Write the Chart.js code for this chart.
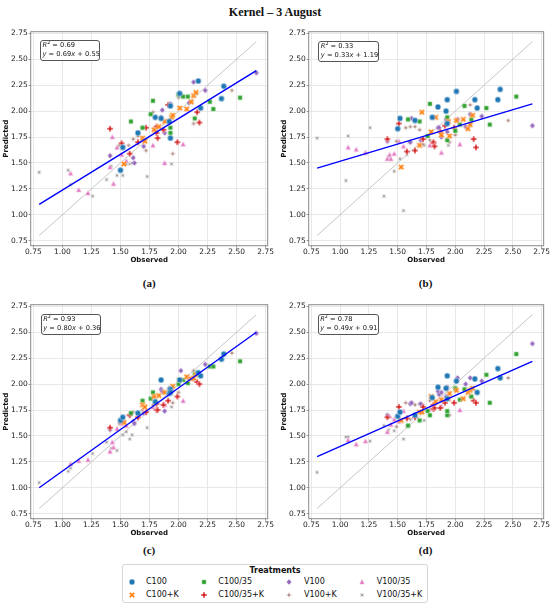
<!DOCTYPE html>
<html><head><meta charset="utf-8">
<script src="https://cdn.jsdelivr.net/npm/chart.js@4.4.0/dist/chart.umd.min.js"></script>
<style>
html,body{margin:0;padding:0;background:#fff;}
#root{position:relative;width:550px;height:606px;overflow:hidden;font-family:'DejaVu Sans',sans-serif;color:#111;}
canvas.panel{position:absolute;}
.title{position:absolute;left:0;width:550px;top:5px;line-height:14px;text-align:center;font-weight:bold;font-size:12px;font-family:'Liberation Serif','Times New Roman',serif;}
.lab{position:absolute;width:60px;line-height:12px;text-align:center;font-weight:bold;font-size:11px;font-family:'Liberation Serif','Times New Roman',serif;}
.ann{position:absolute;box-sizing:border-box;border:1px solid #555;border-radius:3px;background:#fff;font-family:'DejaVu Sans';font-size:6.7px;line-height:9px;padding:0 0 0 1.5px;white-space:nowrap;overflow:hidden;}
.ann sup{font-size:70%;line-height:0;vertical-align:3px;}
.legend{position:absolute;left:122px;top:564px;width:306px;height:39px;box-sizing:border-box;border:1px solid #d6d6d6;border-radius:3px;}
.ltitle{position:absolute;left:122px;width:306px;top:565.5px;line-height:10px;text-align:center;font-weight:bold;font-size:8px;}
.litem{position:absolute;line-height:10px;font-size:8px;white-space:nowrap;}
.lmark{position:absolute;}
</style>
</head>
<body>
<div id="root">
  <div class="title">Kernel – 3 August</div>
</div>
<script>
// ---------------- data ----------------
const treatments = ['C100','C100+K','C100/35','C100/35+K','V100','V100+K','V100/35','V100/35+K'];
const colors = ['#1f77b4','#ff7f0e','#2ca02c','#d62728','#9467bd','#8c564b','#e377c2','#7f7f7f'];
const markerKinds = ['o','X','s','P','d','star+','^','starx'];
const xTicks = [0.75,1.00,1.25,1.50,1.75,2.00,2.25,2.50,2.75];
const yTicks = [0.75,1.00,1.25,1.50,1.75,2.00,2.25,2.50,2.75];

// observed values per treatment (shared by all four panels)
const obsC100    = [1.50,1.52,1.65,1.80,1.85,1.92,1.93,1.93,2.01,2.17,2.19,2.37,2.39];
const obsC100K   = [1.53,1.69,1.71,1.79,1.83,1.88,1.94,1.95,2.01,2.07,2.11,2.13,2.15];
const obsC10035  = [1.59,1.69,1.76,1.78,1.93,1.93,2.00,2.04,2.08,2.14,2.27,2.30,2.53];
const obsC10035K = [1.41,1.51,1.58,1.65,1.72,1.81,1.81,1.82,1.87,1.91,1.99,2.16,2.18];
const obsV100    = [1.41,1.61,1.62,1.70,1.85,1.86,1.88,1.92,1.93,2.02,2.09,2.13,2.23,2.67];
const obsV100K   = [1.49,1.57,1.61,1.65,1.69,1.72,1.78,1.95,2.00,2.13,2.46];
const obsV10035  = [1.07,1.14,1.22,1.41,1.43,1.44,1.47,1.51,1.55,1.78,1.88,2.04];
const obsV10035K = [0.80,1.05,1.07,1.26,1.38,1.42,1.47,1.52,1.55,1.58,1.60,1.73,1.94];

// panel (a) predictions
const predA_C100    = [1.43,1.65,1.79,1.94,1.93,1.90,2.05,1.74,2.17,2.29,2.03,2.12,2.24];
const predA_C100K   = [1.49,1.74,1.71,1.82,1.85,1.90,1.94,1.96,2.03,2.02,2.09,2.15,2.18];
const predA_C10035  = [1.90,1.84,1.97,2.10,1.84,1.79,2.16,2.14,2.14,1.93,2.09,2.02,2.13];
const predA_C10035K = [1.83,1.69,1.59,1.70,1.84,1.85,1.79,1.74,1.82,2.06,1.70,1.99,1.89];
const predA_V100    = [1.57,1.55,1.50,1.66,1.94,2.01,1.79,2.05,2.07,2.16,2.08,2.28,2.20,2.37];
const predA_V100K   = [1.67,1.67,1.73,1.76,1.84,1.62,1.99,1.59,2.13,1.88,2.20];
const predA_V10035  = [1.40,1.24,1.21,1.46,1.75,1.30,1.65,1.58,1.52,1.67,1.50,1.68];
const predA_V10035K = [1.41,1.43,1.29,1.18,1.34,1.47,1.38,1.38,1.49,1.49,1.50,1.37,1.49];

// panel (b) predictions
const predB_C100    = [1.83,1.93,1.91,1.94,2.04,2.00,2.11,1.88,2.19,2.11,2.03,2.11,2.21];
const predB_C100K   = [1.46,1.67,1.99,1.80,1.94,1.77,1.90,1.76,1.91,1.92,1.83,1.87,1.96];
const predB_C10035  = [1.92,1.90,1.76,2.07,1.94,1.72,1.81,1.87,2.05,1.92,2.03,1.87,2.14];
const predB_C10035K = [1.73,1.88,1.61,1.62,1.73,1.69,1.70,1.66,1.80,1.86,1.84,1.73,1.65];
const predB_V100    = [1.71,1.70,1.93,1.72,1.84,1.84,1.75,1.92,1.80,1.92,1.85,1.97,1.95,1.86];
const predB_V100K   = [1.71,1.84,1.85,1.85,1.82,1.68,1.72,1.70,1.77,2.06,1.91];
const predB_V10035  = [1.65,1.63,1.60,1.54,1.58,1.54,1.59,1.71,1.66,1.67,1.60,1.68];
const predB_V10035K = [1.74,1.33,1.76,1.84,1.18,1.56,1.42,1.54,1.04,1.58,1.70,1.67,1.67];

// panel (c) predictions
const predC_C100    = [1.65,1.68,1.72,1.83,2.04,1.91,1.95,1.92,2.04,2.11,2.08,2.24,2.29];
const predC_C100K   = [1.63,1.80,1.78,1.88,1.89,1.92,1.95,1.98,2.04,2.07,2.05,2.06,2.09];
const predC_C10035  = [1.72,1.84,1.86,1.92,1.95,1.92,2.00,2.04,2.01,2.10,2.17,2.17,2.22];
const predC_C10035K = [1.58,1.64,1.70,1.68,1.73,1.75,1.81,1.75,1.80,1.84,1.88,2.02,2.00];
const predC_V100    = [1.56,1.64,1.62,1.72,1.95,1.93,1.74,1.96,1.96,2.13,2.05,2.05,2.19,2.49];
const predC_V100K   = [1.62,1.70,1.73,1.72,1.75,1.72,1.80,1.82,1.92,2.13,2.30];
const predC_V10035  = [1.23,1.26,1.27,1.35,1.44,1.39,1.57,1.62,1.60,1.78,1.80,1.84];
const predC_V10035K = [1.05,1.16,1.19,1.33,1.44,1.38,1.36,1.51,1.54,1.47,1.51,1.58,1.78];

// panel (d) predictions
const predD_C100    = [1.69,1.73,1.70,1.87,1.97,1.96,2.08,1.86,2.03,2.05,1.92,2.15,2.06];
const predD_C100K   = [1.65,1.73,1.73,1.88,1.83,1.85,1.86,1.91,1.94,1.86,1.92,1.94,1.96];
const predD_C10035  = [1.60,1.65,1.74,1.70,1.70,1.74,1.96,1.85,1.95,1.88,2.09,1.82,2.29];
const predD_C10035K = [1.68,1.78,1.67,1.68,1.78,1.80,1.76,1.77,1.77,1.82,1.82,1.84,1.82];
const predD_V100    = [1.70,1.81,1.82,1.81,1.93,1.90,1.92,1.88,1.97,2.06,2.00,2.06,2.03,2.39];
const predD_V100K   = [1.59,1.82,1.66,1.80,1.81,1.80,1.84,1.70,1.95,1.88,2.06];
const predD_V10035  = [1.46,1.42,1.45,1.54,1.69,1.61,1.66,1.64,1.74,1.76,1.79,1.75];
const predD_V10035K = [1.15,1.49,1.49,1.45,1.60,1.56,1.55,1.65,1.47,1.59,1.60,1.65,1.72];

// fitted lines (endpoints at min/max observed) and identity line
const lineX = [0.80, 2.67];
const fitA = [1.10, 2.39];
const fitB = [1.45, 2.07];
const fitC = [1.00, 2.50];
const fitD = [1.30, 2.22];
const identityY = [0.80, 2.67];
const r2Labels = ['0.69','0.33','0.93','0.78'];
const eqSlopes = ['0.69','0.33','0.80','0.49'];
const eqIntercepts = ['0.55','1.19','0.36','0.91'];
const panelLetters = ['(a)','(b)','(c)','(d)'];

// ---------------- build ----------------
const observed = [obsC100,obsC100K,obsC10035,obsC10035K,obsV100,obsV100K,obsV10035,obsV10035K];
const preds = [
  [predA_C100,predA_C100K,predA_C10035,predA_C10035K,predA_V100,predA_V100K,predA_V10035,predA_V10035K],
  [predB_C100,predB_C100K,predB_C10035,predB_C10035K,predB_V100,predB_V100K,predB_V10035,predB_V10035K],
  [predC_C100,predC_C100K,predC_C10035,predC_C10035K,predC_V100,predC_V100K,predC_V10035,predC_V10035K],
  [predD_C100,predD_C100K,predD_C10035,predD_C10035K,predD_V100,predD_V100K,predD_V10035,predD_V10035K]
];
const fits = [fitA,fitB,fitC,fitD];

function markerCanvas(kind, color) {
  const size = 8;
  const c = document.createElement('canvas');
  c.width = size; c.height = size;
  const g = c.getContext('2d');
  const m = size/2;
  g.fillStyle = color; g.strokeStyle = 'rgba(255,255,255,0.9)'; g.lineWidth = 0.5;
  g.beginPath();
  const poly = (pts) => { pts.forEach((p,i)=> i ? g.lineTo(m+p[0], m+p[1]) : g.moveTo(m+p[0], m+p[1])); g.closePath(); };
  const plus = (r, w, rot) => {
    const base = [[w,-r],[w,-w],[r,-w],[r,w],[w,w],[w,r],[-w,r],[-w,w],[-r,w],[-r,-w],[-w,-w],[-w,-r]];
    const ca = Math.cos(rot), sa = Math.sin(rot);
    return base.map(p => [p[0]*ca - p[1]*sa, p[0]*sa + p[1]*ca]);
  };
  const star = (r, ri, rot) => {
    const pts = [];
    for (let i = 0; i < 8; i++) {
      const a = rot + i*Math.PI/4 - Math.PI/2;
      const rr = (i % 2 === 0) ? r : ri;
      pts.push([rr*Math.cos(a), rr*Math.sin(a)]);
    }
    return pts;
  };
  switch (kind) {
    case 'o': g.arc(m, m, 2.9, 0, Math.PI*2); break;
    case 'X': poly(plus(3.2, 1.0, Math.PI/4)); break;
    case 'P': poly(plus(3.0, 1.0, 0)); break;
    case 's': poly([[-2.2,-2.2],[2.2,-2.2],[2.2,2.2],[-2.2,2.2]]); break;
    case 'd': poly([[0,-3.1],[2.6,0],[0,3.1],[-2.6,0]]); break;
    case 'star+': poly(star(3.0, 0.9, 0)); break;
    case '^': poly([[0,-2.9],[2.7,2.3],[-2.7,2.3]]); break;
    case 'starx': poly(star(3.0, 0.9, Math.PI/4)); break;
  }
  g.fill(); g.stroke();
  return c;
}

const framePlugin = {
  id: 'frame',
  afterDraw(chart) {
    const a = chart.chartArea, ctx = chart.ctx;
    ctx.save();
    ctx.strokeStyle = '#8a8a8a'; ctx.lineWidth = 1;
    ctx.strokeRect(a.left, a.top, a.right - a.left, a.bottom - a.top);
    ctx.restore();
  }
};

const root = document.getElementById('root');
// panel geometry: [left, top, width, padRight]
const geo = [[0, 20, 275, 7.3], [277.5, 20, 272.5, 6.3], [0, 293.3, 275, 7.3], [277.5, 293.3, 272.5, 6.3]];
const annPos = [[40, 40, 60, 21], [318.3, 40.5, 61, 21], [40.7, 314, 60.5, 21], [317.7, 314, 61, 21]];
const labPos = [[149.2, 283], [425.6, 283], [149.2, 550], [425.6, 550]];

const tickFont = {family: 'DejaVu Sans', size: 7.5};
const titleFont = {family: 'DejaVu Sans', size: 7, weight: 'bold'};

for (let p = 0; p < 4; p++) {
  const [L, T, W, PR] = geo[p];
  const cv = document.createElement('canvas');
  cv.className = 'panel';
  cv.width = W; cv.height = 250;
  cv.style.left = L + 'px'; cv.style.top = T + 'px';
  cv.style.width = W + 'px'; cv.style.height = '250px';
  root.appendChild(cv);

  const datasets = [];
  datasets.push({
    label: 'fit', data: lineX.map((x, i) => ({x, y: fits[p][i]})),
    showLine: true, pointRadius: 0, borderColor: '#0000ff', borderWidth: 1.4, order: 0
  });
  treatments.forEach((t, i) => {
    datasets.push({
      label: t,
      data: observed[i].map((x, j) => ({x, y: preds[p][i][j]})),
      pointStyle: markerCanvas(markerKinds[i], colors[i]),
      pointRadius: 4, pointHoverRadius: 4,
      backgroundColor: colors[i], borderColor: colors[i],
      order: 1 + i
    });
  });
  datasets.push({
    label: 'identity', data: lineX.map((x, i) => ({x, y: identityY[i]})),
    showLine: true, pointRadius: 0, borderColor: '#b8b8b8', borderWidth: 0.8, order: 20
  });

  new Chart(cv, {
    type: 'scatter',
    data: {datasets},
    plugins: [framePlugin],
    options: {
      responsive: false, animation: false, devicePixelRatio: 1,
      layout: {padding: {top: 11.7, right: PR, left: 0, bottom: 0}},
      plugins: {legend: {display: false}, tooltip: {enabled: false}},
      scales: {
        x: {
          type: 'linear', min: 0.727, max: 2.768,
          afterBuildTicks: s => { s.ticks = xTicks.map(v => ({value: v})); },
          afterFit: s => { s.height = 24.3; },
          grid: {color: '#e2e2e2', lineWidth: 0.8, tickLength: 2, tickColor: '#777', drawTicks: true},
          border: {display: false},
          ticks: {font: tickFont, color: '#222', padding: 0, maxRotation: 0, autoSkip: false, callback: v => Number(v).toFixed(2)},
          title: {display: true, text: 'Observed', font: titleFont, color: '#111', padding: {top: 0, bottom: 6}}
        },
        y: {
          type: 'linear', min: 0.702, max: 2.766,
          afterBuildTicks: s => { s.ticks = yTicks.map(v => ({value: v})); },
          afterFit: s => { s.width = 30.7; },
          grid: {color: '#e2e2e2', lineWidth: 0.8, tickLength: 2, tickColor: '#777', drawTicks: true},
          border: {display: false},
          ticks: {font: tickFont, color: '#222', padding: 1, autoSkip: false, callback: v => Number(v).toFixed(2)},
          title: {display: true, text: 'Predicted', font: titleFont, color: '#111', padding: {top: 1.8, bottom: 0}}
        }
      }
    }
  });

  // annotation box
  const [aL, aT, aW, aH] = annPos[p];
  const ann = document.createElement('div');
  ann.className = 'ann';
  ann.style.left = aL + 'px'; ann.style.top = aT + 'px';
  ann.style.width = aW + 'px'; ann.style.height = aH + 'px';
  ann.innerHTML = '<i>R</i><sup>2</sup> = ' + r2Labels[p] + '<br><i>y</i> = ' + eqSlopes[p] + '<i>x</i> + ' + eqIntercepts[p];
  root.appendChild(ann);

  // panel letter
  const lab = document.createElement('div');
  lab.className = 'lab';
  lab.textContent = panelLetters[p];
  lab.style.left = (labPos[p][0] - 30) + 'px';
  lab.style.top = (labPos[p][1] - 6) + 'px';
  root.appendChild(lab);
}

// legend
const lg = document.createElement('div'); lg.className = 'legend'; root.appendChild(lg);
const lt = document.createElement('div'); lt.className = 'ltitle'; lt.textContent = 'Treatments'; root.appendChild(lt);
const colMark = [131.5, 204, 289.3, 362.3];
const colText = [146, 218.3, 304, 376.7];
const rowY = [582.3, 595];
treatments.forEach((t, i) => {
  const col = Math.floor(i / 2), row = i % 2;
  const mk = markerCanvas(markerKinds[i], colors[i]);
  mk.className = 'lmark';
  mk.style.left = (colMark[col] - 4) + 'px';
  mk.style.top = (rowY[row] - 4) + 'px';
  root.appendChild(mk);
  const tx = document.createElement('div');
  tx.className = 'litem';
  tx.textContent = t;
  tx.style.left = colText[col] + 'px';
  tx.style.top = (rowY[row] - 5) + 'px';
  root.appendChild(tx);
});
</script>
</body></html>
